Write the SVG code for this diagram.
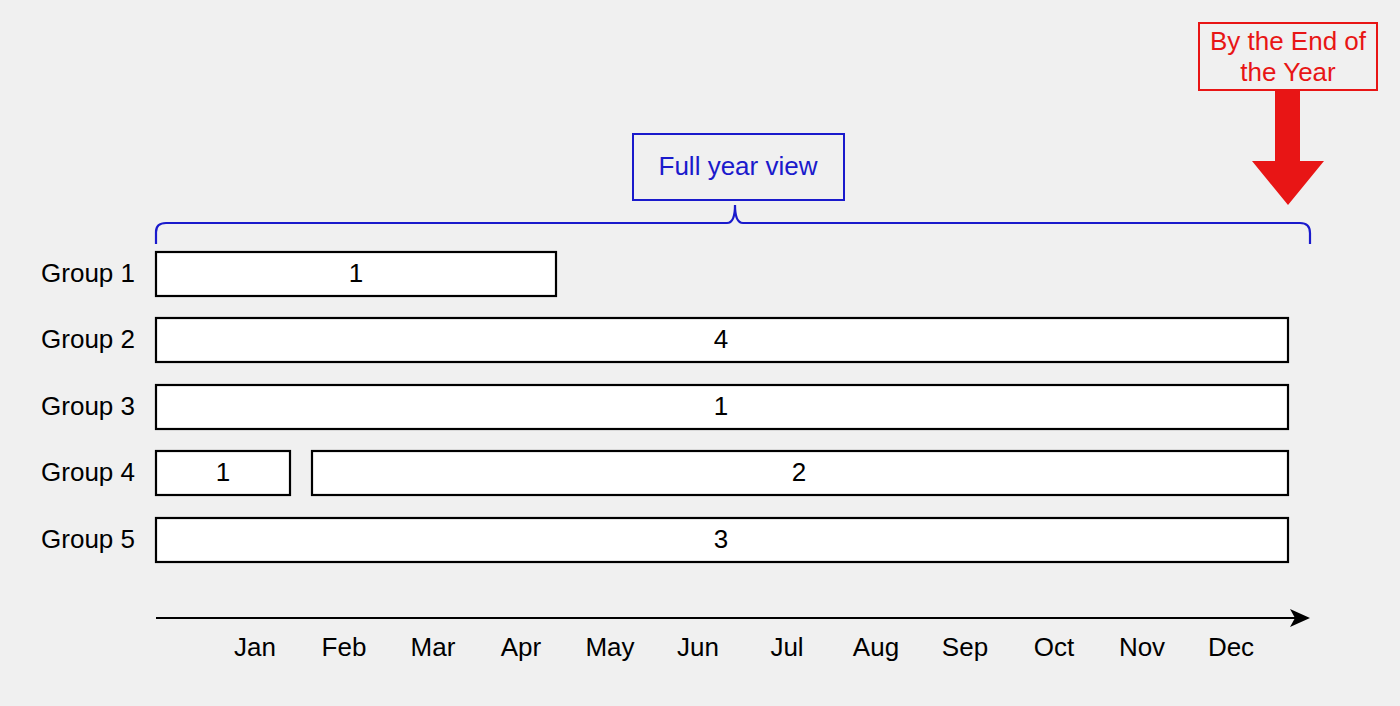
<svg xmlns="http://www.w3.org/2000/svg" width="1400" height="706" viewBox="0 0 1400 706">
<defs>
<style>
text{font-family:"Liberation Sans",Arial,sans-serif;font-size:26px;fill:#000;}
.bar{fill:#fff;stroke:#000;stroke-width:2.2;}
.c{text-anchor:middle;dominant-baseline:central;}
.lbl{text-anchor:end;dominant-baseline:central;}
.blue{fill:#1a1acc;}
.red{fill:#e81515;}
</style>
<marker id="ah" markerWidth="20" markerHeight="20" viewBox="0 0 20 20" refX="18" refY="10" orient="auto" markerUnits="userSpaceOnUse">
<path d="M0,1 L20,10 L0,19 L5,10 Z" fill="#000"/>
</marker>
</defs>
<rect width="1400" height="706" fill="#f0f0f0"/>

<g id="connectors">
<path d="M156,618 L1308,618" stroke="#000" stroke-width="2.2" fill="none" marker-end="url(#ah)"/>
<path d="M156,244 L156,232 Q156,223 166,223 L727,223 Q735,223 735,205 Q735,223 743,223 L1300,223 Q1310,223 1310,233 L1310,244" stroke="#1a1acc" stroke-width="2.2" fill="none"/>
<path d="M1275,90 L1300,90 L1300,161 L1324,161 L1288,205 L1252,161 L1275,161 Z" fill="#e81515"/>
</g>

<g id="end-of-year">
<rect x="1199" y="23" width="178" height="67" fill="#f0f0f0" stroke="#e81515" stroke-width="2"/>
<text class="c red" x="1288" y="41">By the End of</text>
<text class="c red" x="1288" y="72">the Year</text>
</g>

<g id="full-year-view">
<rect x="633" y="134" width="211" height="66" fill="#f0f0f0" stroke="#1a1acc" stroke-width="2"/>
<text class="c blue" x="738" y="166">Full year view</text>
</g>

<g id="group1">
<text class="lbl" x="135" y="273">Group 1</text>
<rect class="bar" x="156" y="252" width="400" height="44"/>
<text class="c" x="356" y="273">1</text>
</g>
<g id="group2">
<text class="lbl" x="135" y="339">Group 2</text>
<rect class="bar" x="156" y="318" width="1132" height="44"/>
<text class="c" x="721" y="339">4</text>
</g>
<g id="group3">
<text class="lbl" x="135" y="406">Group 3</text>
<rect class="bar" x="156" y="385" width="1132" height="44"/>
<text class="c" x="721" y="406">1</text>
</g>
<g id="group4">
<text class="lbl" x="135" y="472">Group 4</text>
<rect class="bar" x="156" y="451" width="134" height="44"/>
<text class="c" x="223" y="472">1</text>
<rect class="bar" x="312" y="451" width="976" height="44"/>
<text class="c" x="799" y="472">2</text>
</g>
<g id="group5">
<text class="lbl" x="135" y="539">Group 5</text>
<rect class="bar" x="156" y="518" width="1132" height="44"/>
<text class="c" x="721" y="539">3</text>
</g>

<g id="months">
<text class="c" x="255" y="647">Jan</text>
<text class="c" x="344" y="647">Feb</text>
<text class="c" x="433" y="647">Mar</text>
<text class="c" x="521" y="647">Apr</text>
<text class="c" x="610" y="647">May</text>
<text class="c" x="698" y="647">Jun</text>
<text class="c" x="787" y="647">Jul</text>
<text class="c" x="876" y="647">Aug</text>
<text class="c" x="965" y="647">Sep</text>
<text class="c" x="1054" y="647">Oct</text>
<text class="c" x="1142" y="647">Nov</text>
<text class="c" x="1231" y="647">Dec</text>
</g>
</svg>
